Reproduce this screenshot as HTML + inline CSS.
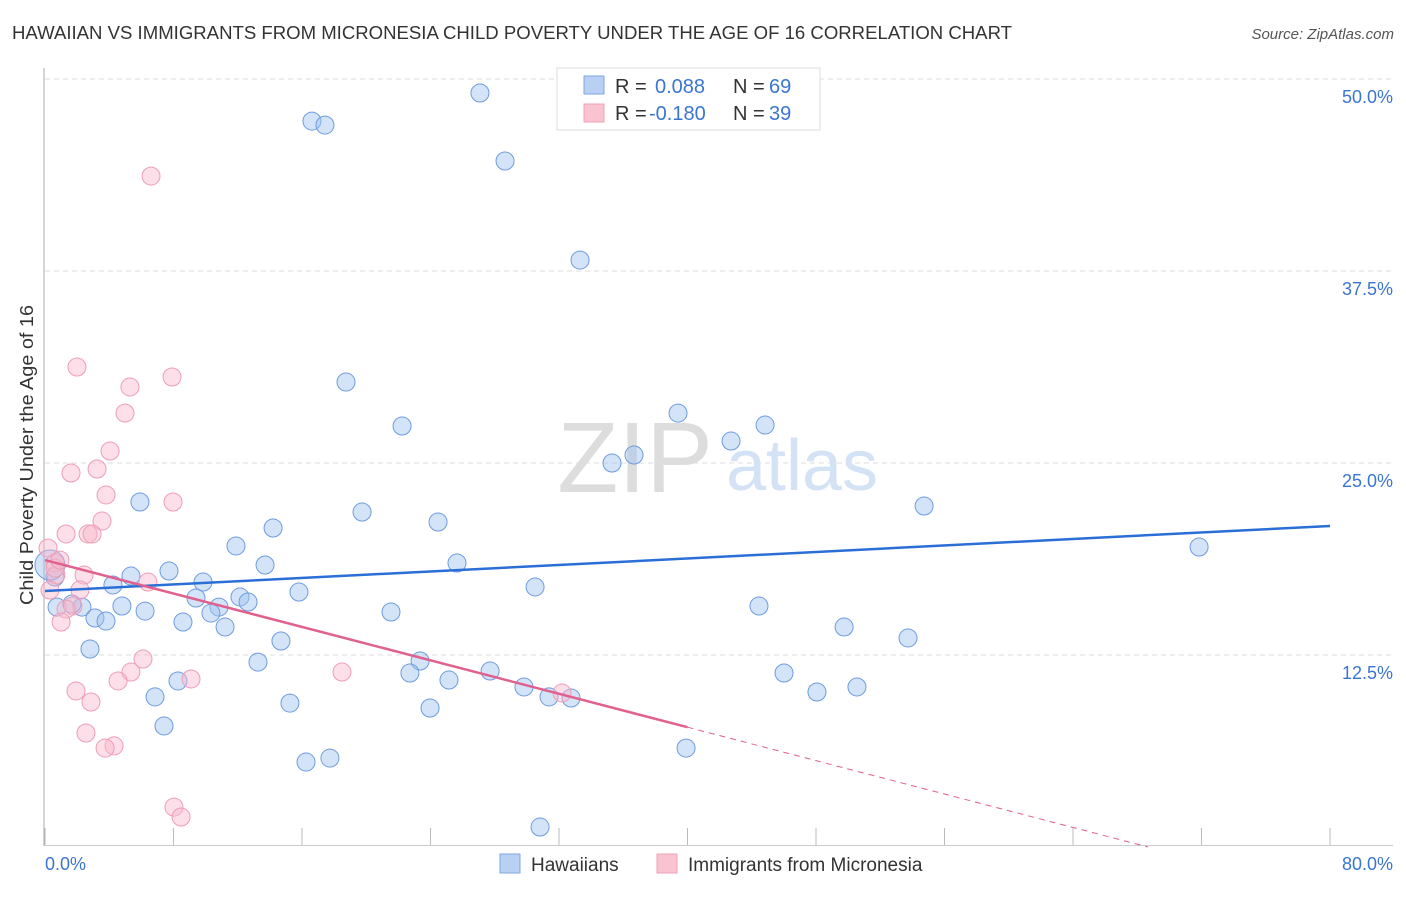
<!DOCTYPE html>
<html><head><meta charset="utf-8"><style>
body{margin:0;background:#fff;font-family:"Liberation Sans",sans-serif;}
svg text{font-family:"Liberation Sans",sans-serif;}
</style></head><body>
<svg width="1406" height="892" xmlns="http://www.w3.org/2000/svg">
<text x="12" y="39" font-size="18" fill="#333" textLength="1000" lengthAdjust="spacingAndGlyphs">HAWAIIAN VS IMMIGRANTS FROM MICRONESIA CHILD POVERTY UNDER THE AGE OF 16 CORRELATION CHART</text>
<text x="1394" y="39" font-size="15" fill="#555" text-anchor="end" font-style="italic">Source: ZipAtlas.com</text>
<g id="grid"></g>
<text x="635" y="492" font-size="100" fill="#ddd" text-anchor="middle" font-family="Liberation Serif">ZIP</text>
<text x="802" y="490" font-size="72" fill="#d4e2f5" text-anchor="middle">atlas</text>
<line x1="44" y1="68" x2="44" y2="846" stroke="#aaa"/>
<line x1="44" y1="845.5" x2="1393" y2="845.5" stroke="#ccc"/>
<text x="33" y="455" font-size="18" fill="#333" text-anchor="middle" textLength="300" lengthAdjust="spacingAndGlyphs" transform="rotate(-90 33 455)">Child Poverty Under the Age of 16</text>
<text x="45" y="870" font-size="18" fill="#3a76d0">0.0%</text>
<text x="1393" y="870" font-size="18" fill="#3a76d0" text-anchor="end">80.0%</text>
<g id="pts"></g>
<g id="lines"></g>
<g>
<rect x="557" y="68" width="263" height="62" fill="#fff" stroke="#ddd"/>
<rect x="584" y="76" width="20" height="18" fill="#b8d0f3" stroke="#7fa6e0"/>
<rect x="584" y="104" width="20" height="18" fill="#f9c3d2" stroke="#eea0b7"/>
<text x="615" y="93" font-size="20" fill="#333">R = </text><text x="655" y="93" font-size="20" fill="#3a76d0">0.088</text>
<text x="733" y="93" font-size="20" fill="#333">N = </text><text x="769" y="93" font-size="20" fill="#3a76d0">69</text>
<text x="615" y="120" font-size="20" fill="#333">R = </text><text x="649" y="120" font-size="20" fill="#3a76d0">-0.180</text>
<text x="733" y="120" font-size="20" fill="#333">N = </text><text x="769" y="120" font-size="20" fill="#3a76d0">39</text>
</g>
<g>
<rect x="500" y="854" width="20" height="19" fill="#b8d0f3" stroke="#7fa6e0"/>
<text x="531" y="871" font-size="19" fill="#333">Hawaiians</text>
<rect x="657" y="854" width="20" height="19" fill="#f9c3d2" stroke="#eea0b7"/>
<text x="688" y="871" font-size="19" fill="#333">Immigrants from Micronesia</text>
</g>
</svg>
<script>
const yTicks=[12.5,25,37.5,50];
const yTickLabels=["12.5%","25.0%","37.5%","50.0%"];
const xTicks=[0,8,16,24,32,40,48,56,64,72,80];
const blueX=[27.08,16.62,17.43,28.64,33.31,18.74,22.23,39.41,44.83,42.71,36.67,35.3,54.73,5.91,19.74,24.47,14.2,11.89,71.85,13.7,25.65,7.72,5.35,4.23,9.84,30.51,15.81,9.4,12.14,12.64,0.75,2.3,4.79,1.68,6.23,10.83,21.54,44.45,10.33,3.11,3.8,8.59,11.21,49.75,53.73,14.69,2.8,13.26,23.35,22.72,27.71,25.15,46.01,8.28,29.82,48.06,50.55,6.85,31.38,32.75,15.25,23.97,7.41,39.91,16.25,17.74,30.82,0.62,0.31];
const blueY=[49.09,47.26,47.0,44.66,38.21,30.27,27.41,28.25,27.47,26.43,25.52,25.0,22.2,22.46,21.81,21.16,20.77,19.6,19.53,18.36,18.49,17.97,17.64,17.06,17.25,16.93,16.6,16.21,16.28,15.95,15.62,15.62,15.69,15.82,15.36,15.62,15.3,15.69,15.23,14.91,14.71,14.65,14.32,14.32,13.61,13.41,12.89,12.04,12.11,11.33,11.46,10.87,11.33,10.81,10.42,10.09,10.42,9.77,9.77,9.7,9.37,9.05,7.88,6.44,5.53,5.79,1.3,17.58,18.36];
const pinkX=[6.6,1.99,7.91,5.29,4.98,4.05,1.62,3.24,3.8,7.97,3.55,1.31,2.68,2.93,0.19,0.62,2.43,0.68,6.41,2.18,0.31,1.74,1.31,1.0,6.1,5.35,18.49,9.09,4.55,1.93,2.86,32.19,2.55,4.3,3.74,8.03,8.47,0.62,0.93];
const pinkY=[43.68,31.25,30.6,29.95,28.25,25.78,24.35,24.61,22.92,22.46,21.22,20.38,20.38,20.38,19.46,18.49,17.71,17.71,17.25,16.73,16.73,15.69,15.49,14.65,12.24,11.39,11.39,10.94,10.81,10.16,9.44,10.03,7.42,6.58,6.44,2.6,1.95,18.16,18.68];
const blueTrend=[16.67,20.9];   // y at x=0 and x=80
const pinkTrend=[18.68,-0.272]; // intercept, slope
const pinkSolidEnd=40;
const X=v=>45+v*1285/80, Y=v=>847-v*192/12.5;
const NS="http://www.w3.org/2000/svg";
function mk(t,a,p){const e=document.createElementNS(NS,t);for(const k in a)e.setAttribute(k,a[k]);p.appendChild(e);return e;}
const grid=document.getElementById('grid');
yTicks.forEach((t,i)=>{
 const l=mk('line',{x1:45,x2:1393,y1:Y(t),y2:Y(t),stroke:'#ddd','stroke-dasharray':'5,4'},grid);
 
 
 const tx=mk('text',{x:1393,y:Y(t)+24,'font-size':18,fill:'#3a76d0','text-anchor':'end'},grid);
 tx.textContent=yTickLabels[i];
 
 
});
xTicks.forEach(t=>{
 const l=mk('line',{x1:X(t),x2:X(t),y1:828,y2:845,stroke:'#bbb'},grid);
 
 
});
const pts=document.getElementById('pts');
blueX.forEach((x,i)=>{
 const big=(i===blueX.length-1);
 const c=mk('circle',{cx:X(x),cy:Y(blueY[i]),r:big?15:9,fill:'rgba(160,195,240,0.45)',stroke:'#6d9be0','stroke-width':1},pts);
 
 
});
pinkX.forEach((x,i)=>{
 const c=mk('circle',{cx:X(x),cy:Y(pinkY[i]),r:9,fill:'rgba(248,185,205,0.45)',stroke:'#ee9db6','stroke-width':1},pts);
 
 
});
const lines=document.getElementById('lines');
const bl=mk('line',{x1:X(0),y1:Y(blueTrend[0]),x2:X(80),y2:Y(blueTrend[1]),stroke:'#2a6fd6','stroke-width':2.5},lines);


const pe=x=>pinkTrend[0]+pinkTrend[1]*x;
const pl=mk('line',{x1:X(0),y1:Y(pe(0)),x2:X(pinkSolidEnd),y2:Y(pe(pinkSolidEnd)),stroke:'#e0608e','stroke-width':2.5},lines);


const xEnd=-pinkTrend[0]/pinkTrend[1];
const pd=mk('line',{x1:X(pinkSolidEnd),y1:Y(pe(pinkSolidEnd)),x2:X(xEnd),y2:Y(0),stroke:'#e0608e','stroke-width':1,'stroke-dasharray':'6,5'},lines);


</script>
</body></html>
